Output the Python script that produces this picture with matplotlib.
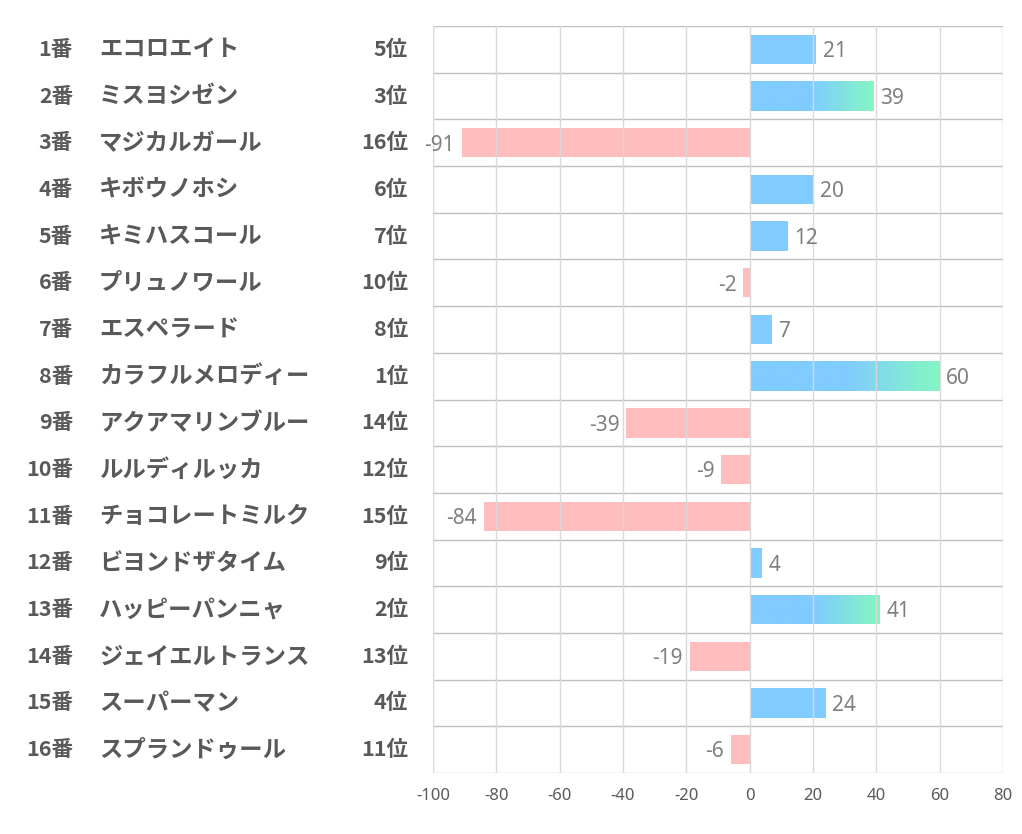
import numpy as np
import matplotlib
matplotlib.use('Agg')
import matplotlib.pyplot as plt
from matplotlib.colors import LinearSegmentedColormap
from matplotlib.patches import Rectangle

plt.rcParams['font.family'] = ['Noto Sans CJK JP', 'DejaVu Sans']
plt.rcParams['axes.unicode_minus'] = False

# data
numbers = ['1番', '2番', '3番', '4番', '5番', '6番', '7番', '8番',
           '9番', '10番', '11番', '12番', '13番', '14番', '15番', '16番']
names = ['エコロエイト', 'ミスヨシゼン', 'マジカルガール', 'キボウノホシ', 'キミハスコール',
         'プリュノワール', 'エスペラード', 'カラフルメロディー', 'アクアマリンブルー',
         'ルルディルッカ', 'チョコレートミルク', 'ビヨンドザタイム', 'ハッピーパンニャ',
         'ジェイエルトランス', 'スーパーマン', 'スプランドゥール']
ranks = ['5位', '3位', '16位', '6位', '7位', '10位', '8位', '1位',
         '14位', '12位', '15位', '9位', '2位', '13位', '4位', '11位']
values = [21, 39, -91, 20, 12, -2, 7, 60, -39, -9, -84, 4, 41, -19, 24, -6]
top3 = ['1位', '2位', '3位']

blue = '#79C9FF'
green = '#7DF7BE'
pink = '#FFBABA'
grad = LinearSegmentedColormap.from_list('g', [blue, blue, green], N=256)

fig = plt.figure(figsize=(10.22, 8.34), dpi=100)
ax = fig.add_axes([433 / 1022, 1 - 773 / 834, (1003 - 433) / 1022, (773 - 26) / 834])

n = len(values)
ypos = np.arange(n)
h = 0.63
ax.set_xlim(-100, 80)
ax.set_ylim(n - 0.5, -0.5)

for y, v, r in zip(ypos, values, ranks):
    if v >= 0 and r in top3:
        rect = Rectangle((0, y - h / 2), v, h, facecolor='none', edgecolor='none')
        ax.add_patch(rect)
        img = ax.imshow(np.linspace(0, 1, 256).reshape(1, -1), cmap=grad, aspect='auto',
                        extent=(0, v, y + h / 2, y - h / 2), zorder=1, alpha=0.95)
        img.set_clip_path(rect)
    else:
        ax.barh(y, v, height=h, color=blue if v >= 0 else pink, zorder=1, alpha=0.95)
    if v >= 0:
        ax.text(v + 2.1, y + 0.05, str(v), ha='left', va='center', fontsize=15,
                color='#7F7F7F', family=['Noto Sans', 'DejaVu Sans'])
    else:
        ax.text(v - 2.1, y + 0.05, str(v), ha='right', va='center', fontsize=15,
                color='#7F7F7F', family=['Noto Sans', 'DejaVu Sans'])

ax.set_xticks(np.arange(-100, 81, 20))
ax.set_yticks([])
ax.grid(axis='x', color='#D9D9D9', linewidth=1, zorder=0)
for b in np.arange(-0.5, n, 1):
    ax.axhline(b, color='#BFBFBF', linewidth=1, zorder=0)
for s in ax.spines.values():
    s.set_visible(False)
ax.axvline(-100, color='#D9D9D9', linewidth=1, zorder=0)
ax.axvline(80, color='#D9D9D9', linewidth=1, zorder=0)
ax.tick_params(axis='x', length=0, labelsize=12, labelcolor='#595959', pad=11)
for t in ax.get_xticklabels():
    t.set_family(['Noto Sans', 'DejaVu Sans'])

for y, num, nm, r in zip(ypos, numbers, names, ranks):
    yf = 1 - (26 + (y + 0.5) * (773 - 26) / n) / 834
    fig.text(73 / 1022, yf, num, ha='right', va='center', fontsize=15.5,
             fontweight='bold', color='#595959')
    fig.text(99 / 1022, yf, nm, ha='left', va='center', fontsize=16.8,
             fontweight='bold', color='#595959')
    fig.text(408 / 1022, yf, r, ha='right', va='center', fontsize=15.5,
             fontweight='bold', color='#595959')

fig.savefig('out.png', dpi=100)
